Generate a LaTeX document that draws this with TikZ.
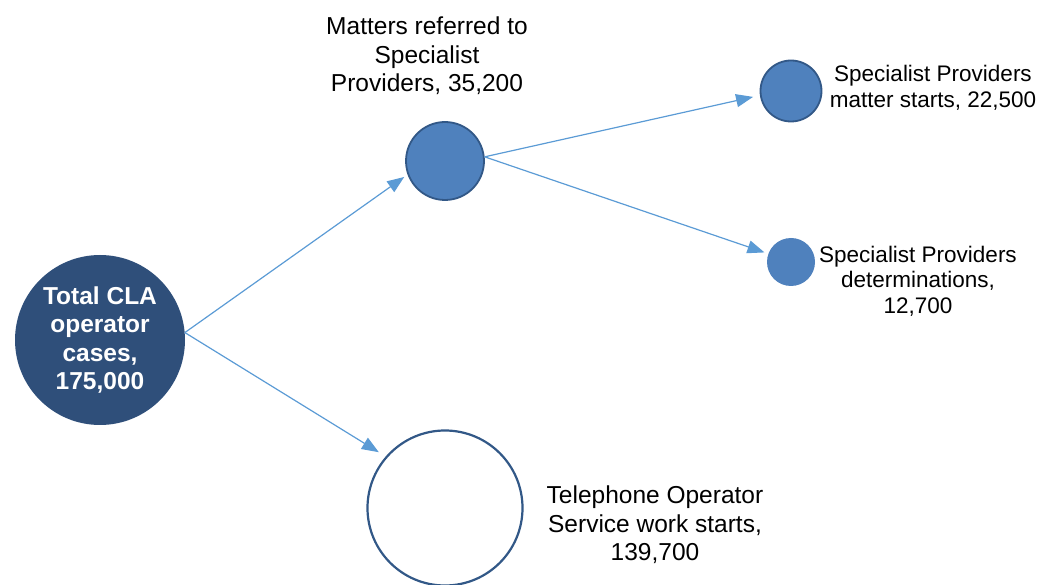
\documentclass[tikz,border=0pt]{standalone}
\usepackage{fontspec}
\setmainfont{Liberation Sans}
\definecolor{casenavy}{RGB}{47, 79, 122}
\definecolor{refblue}{RGB}{79, 129, 189}
\definecolor{rimblue}{RGB}{50, 88, 135}
\definecolor{arrowblue}{RGB}{91, 155, 213}
\usepackage{tikz}
\usetikzlibrary{arrows.meta, positioning}

\begin{document}
\begin{tikzpicture}[x=1pt, y=-1pt,
  flow/.style={-{Triangle[length=17pt, width=13pt]}, line width=1.2pt, arrowblue},
  lbl/.style={align=center, font=\fontsize{24.5}{28.5}\selectfont},
  sidelbl/.style={align=center, font=\fontsize{22.5}{25.5}\selectfont}]
  \useasboundingbox (0, 0) rectangle (1045, 585);

  % Total cases
  \node[circle, fill=casenavy, minimum size=170pt, inner sep=0pt, text=white, align=center, font=\bfseries\fontsize{24.5}{28.5}\selectfont] (total) at (100, 340) {Total CLA\\operator\\cases,\\175,000};

  % Referred to specialists
  \node[circle, draw=rimblue, line width=1.8pt, fill=refblue, minimum size=78pt, inner sep=0pt] (refer) at (445, 161) {};
  \node[lbl] (referlbl) at (427, 56) {Matters referred to\\Specialist\\Providers, 35,200};

  % Specialist outcomes
  \node[circle, draw=rimblue, line width=1.8pt, fill=refblue, minimum size=61pt, inner sep=0pt] (starts) at (791, 91) {};
  \node[sidelbl] (startslbl) at (933, 88) {Specialist Providers\\matter starts, 22,500};
  \node[circle, fill=refblue, minimum size=48pt, inner sep=0pt] (determ) at (791, 262) {};
  \node[sidelbl] (determlbl) at (918, 281) {Specialist Providers\\determinations,\\12,700};

  % Telephone operator
  \node[circle, draw=rimblue, line width=2.2pt, fill=white, minimum size=155pt, inner sep=0pt] (phone) at (445, 508) {};
  \node[lbl] (phonelbl) at (655, 525) {Telephone Operator\\Service work starts,\\139,700};

  % Flow arrows
  \draw[flow, shorten >=4pt] (total.5) -- (refer.200);
  \draw[flow, shorten >=8pt] (total.5) -- (phone.139);
  \draw[flow, shorten >=7pt] (refer.6) -- (starts.188);
  \draw[flow, shorten >=4pt] (refer.6) -- (determ.160);
\end{tikzpicture}
\end{document}
